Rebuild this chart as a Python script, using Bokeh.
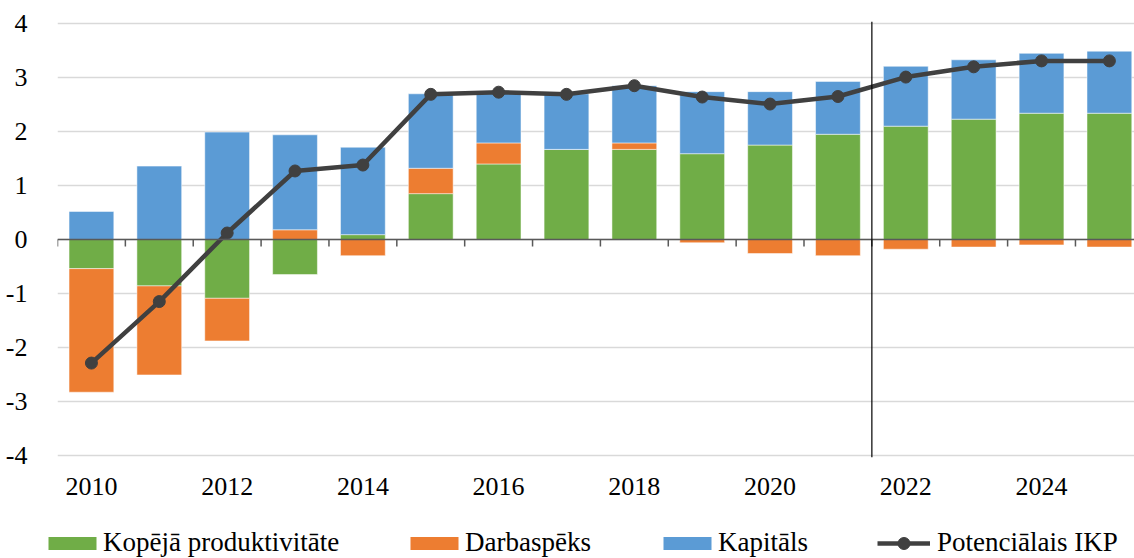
from bokeh.plotting import figure
from bokeh.layouts import column
from bokeh.models import (ColumnDataSource, Range1d, FixedTicker, Span, Legend, LegendItem)
from bokeh.embed import file_html
from bokeh.resources import INLINE

years = list(range(2010, 2026))
kop = [-0.54, -0.86, -1.09, -0.65, 0.09, 0.85, 1.40, 1.67, 1.67, 1.59, 1.75, 1.95, 2.10, 2.23, 2.34, 2.34]
darb = [-2.29, -1.65, -0.79, 0.18, -0.30, 0.47, 0.39, 0.00, 0.12, -0.06, -0.26, -0.30, -0.18, -0.14, -0.10, -0.14]
kap = [0.52, 1.36, 1.99, 1.76, 1.62, 1.38, 0.93, 1.03, 1.06, 1.15, 0.99, 0.98, 1.11, 1.10, 1.11, 1.15]
ikp = [-2.29, -1.15, 0.12, 1.27, 1.38, 2.69, 2.73, 2.69, 2.85, 2.64, 2.51, 2.65, 3.01, 3.20, 3.31, 3.31]
forecast_start = 2022
y_ticks = [-4, -3, -2, -1, 0, 1, 2, 3, 4]
y_tick_labels = {t: str(t) for t in y_ticks}
x_label_ticks = list(range(2010, 2025, 2))

series = [("Kopējā produktivitāte", kop, "#70AD47"),
          ("Darbaspēks", darb, "#ED7D31"),
          ("Kapitāls", kap, "#5B9BD5")]
line_name = "Potenciālais IKP"
line_color = "#404040"

FONT = "Liberation Serif"

p = figure(width=1134, height=503, output_backend="svg", toolbar_location=None,
           x_range=Range1d(years[0] - 0.5, years[-1] + 0.37),
           y_range=Range1d(-4.04, 4.04),
           min_border_left=57, min_border_right=0, min_border_top=21, min_border_bottom=46)
p.outline_line_color = None
p.background_fill_color = "white"
p.frame_align = False

# stacked bars (positive and negative stacks separately)
pos_base = [0.0] * len(years)
neg_base = [0.0] * len(years)
bar_sources = []
for name, vals, color in series:
    bottoms, tops = [], []
    for i, v in enumerate(vals):
        if v >= 0:
            b, t = pos_base[i], pos_base[i] + v
            pos_base[i] = t
        else:
            t, b = neg_base[i], neg_base[i] + v
            neg_base[i] = b
        bottoms.append(b)
        tops.append(t)
    src = ColumnDataSource(dict(x=years, bottom=bottoms, top=tops))
    bar_sources.append(src)
    p.vbar(x="x", bottom="bottom", top="top", width=0.66, source=src,
           fill_color=color, line_color="white", line_alpha=0.5, line_width=1)

# zero axis line and category tick marks
p.add_layout(Span(location=0, dimension="width", line_color="#595959", line_width=1.5))
bounds = [y - 0.5 for y in years] + [years[-1] + 0.5]
p.segment(x0=bounds, x1=bounds, y0=[0] * len(bounds), y1=[-0.13] * len(bounds),
          line_color="#595959", line_width=1.5)

# forecast divider
p.add_layout(Span(location=forecast_start - 0.5, dimension="height",
                  line_color="black", line_width=1.2))

# line
lsrc = ColumnDataSource(dict(x=years, y=ikp))
p.line("x", "y", source=lsrc, line_color=line_color, line_width=4.5)
p.scatter("x", "y", source=lsrc, size=12, fill_color=line_color, line_color=line_color)

# axes
p.xaxis.ticker = FixedTicker(ticks=x_label_ticks)
p.xaxis.axis_line_color = None
p.xaxis.major_tick_line_color = None
p.xaxis.minor_tick_line_color = None
p.xaxis.major_label_standoff = 14
p.xaxis.major_label_text_font = FONT
p.xaxis.major_label_text_font_size = "26px"
p.xaxis.major_label_text_color = "black"

p.yaxis.ticker = FixedTicker(ticks=y_ticks)
p.yaxis.major_label_overrides = y_tick_labels
p.yaxis.axis_line_color = None
p.yaxis.major_tick_line_color = None
p.yaxis.minor_tick_line_color = None
p.yaxis.major_label_standoff = 24
p.yaxis.major_label_text_font = FONT
p.yaxis.major_label_text_font_size = "26px"
p.yaxis.major_label_text_color = "black"

p.xgrid.grid_line_color = None
p.ygrid.ticker = FixedTicker(ticks=y_ticks)
p.ygrid.grid_line_color = "#d9d9d9"
p.ygrid.grid_line_width = 1.5

# legend strip (separate figure underneath; its ranges keep the data out of view)
lf = figure(width=1134, height=55, output_backend="svg", toolbar_location=None,
            x_range=Range1d(0, 1), y_range=Range1d(0, 1), x_axis_type=None, y_axis_type=None,
            min_border_left=0, min_border_right=0, min_border_top=0, min_border_bottom=0)
lf.outline_line_color = None
lf.grid.visible = False
lf.frame_align = False

def add_legend(item, x, gw, gh, standoff):
    lg = Legend(items=[item], location=(x, 0), orientation="horizontal",
                padding=0, margin=0, border_line_alpha=0, background_fill_alpha=0,
                glyph_width=gw, glyph_height=gh, label_standoff=standoff,
                label_text_font=FONT, label_text_font_size="27px",
                label_text_color="black")
    lf.add_layout(lg, "center")

bar_x = [42, 404, 657]
for (name, vals, color), src, x in zip(series, bar_sources, bar_x):
    r = lf.vbar(x="x", bottom="bottom", top="top", width=0.66, source=src,
                fill_color=color, line_color=None)
    add_legend(LegendItem(label=name, renderers=[r]), x, 60, 16, 1)

lr = lf.line("x", "y", source=lsrc, line_color=line_color, line_width=4.5)
sr = lf.scatter("x", "y", source=lsrc, size=12, fill_color=line_color, line_color=line_color)
add_legend(LegendItem(label=line_name, renderers=[lr, sr]), 877, 53, 30, 7)

open("out.html", "w").write(file_html(column(p, lf, spacing=0), INLINE))
